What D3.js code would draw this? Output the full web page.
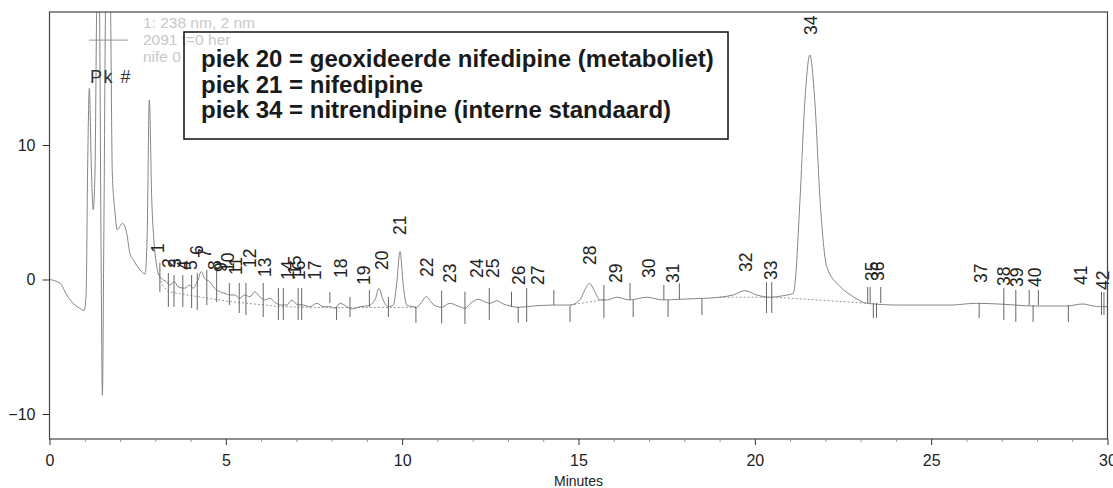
<!DOCTYPE html>
<html>
<head>
<meta charset="utf-8">
<script src="https://cdn.jsdelivr.net/npm/d3@7"></script>
<style>
  html, body { margin: 0; padding: 0; background: #fff; }
  svg { display: block; font-family: "Liberation Sans", Arial, sans-serif; }
</style>
</head>
<body>
<svg id="chart" width="1113" height="488"></svg>
<script>
// ---- Data ----
const traceT = [0,0.30,0.49,0.67,0.91,0.98,1.04,1.08,1.13,1.18,1.24,1.29,1.35,1.41,1.46,1.50,1.54,1.60,1.72,1.78,1.85,1.92,2.07,2.19,2.28,2.38,2.57,2.71,2.77,2.83,2.90,2.96,3.00,3.08,3.17,3.31,3.41,3.55,3.64,3.83,3.98,4.07,4.21,4.30,4.40,4.54,4.68,4.83,4.97,5.11,5.25,5.39,5.53,5.68,5.82,5.96,6.10,6.24,6.43,6.57,6.73,6.87,7.01,7.20,7.39,7.58,7.76,7.95,8.09,8.24,8.43,8.57,8.80,9.04,9.23,9.34,9.46,9.61,9.75,9.84,9.94,10.03,10.13,10.31,10.41,10.53,10.69,10.84,10.96,11.12,11.35,11.58,11.78,11.95,12.16,12.35,12.49,12.68,12.87,13.06,13.29,13.72,14.28,14.76,15.04,15.18,15.31,15.44,15.61,15.80,16.08,16.46,16.93,17.40,17.88,18.54,19.01,19.39,19.72,20.05,20.43,20.81,21.09,21.14,21.28,21.42,21.56,21.70,21.85,22.04,22.42,22.79,23.17,24.12,25.53,26.29,27.04,27.89,28.84,29.30,29.59,29.78,30.00];
const traceV = [0,-0.28,-1.15,-1.77,-2.22,-2.32,-1.0,8,14.2,9,5.2,8,21.5,21.5,3,-8.6,3,21.5,21.5,8,5.2,3.7,4.18,3.43,1.95,1.45,0.71,0.41,3.43,13.35,5.9,2.9,1.8,0.46,0.09,-0.16,-0.41,-0.16,-0.54,-0.65,-0.41,-0.65,-0.04,0.58,0.09,-0.16,-0.65,-0.91,-1.03,-1.15,-1.15,-1.40,-1.15,-1.28,-0.91,-1.28,-1.52,-1.40,-1.77,-1.90,-1.90,-1.52,-1.84,-1.90,-2.02,-1.77,-2.02,-2.02,-2.14,-1.77,-2.02,-2.19,-2.02,-1.95,-1.52,-0.65,-1.52,-2.02,-1.90,-0.41,2.07,-0.41,-1.90,-2.02,-2.07,-1.75,-1.28,-1.75,-1.97,-2.07,-1.77,-1.97,-2.14,-1.75,-1.47,-1.67,-1.77,-1.58,-1.82,-1.97,-2.07,-1.97,-1.90,-1.90,-1.52,-0.78,-0.28,-0.78,-1.52,-1.52,-1.32,-1.52,-1.32,-1.52,-1.47,-1.40,-1.32,-1.15,-0.83,-1.15,-1.32,-1.20,-1.03,-0.28,5.9,13.3,16.7,13.3,5.9,0.95,-0.53,-1.28,-1.77,-1.90,-1.90,-1.77,-1.84,-1.97,-1.97,-1.82,-1.97,-2.02,-2.02];

// integration baselines (NaN separates segments)
const baseT = [3.08,3.20,3.36,4.21,5.14,6.56,8.0,9.2,10.41, NaN, 14.76,15.72, NaN, 19.0,20.43, NaN, 20.48,23.2];
const baseV = [0.46,-0.4,-0.91,-1.28,-1.65,-2.02,-2.1,-2.08,-2.07, NaN, -1.9,-1.5, NaN, -1.32,-1.32, NaN, -1.3,-1.77];

// peak numbers, label positions (time, signal level of label foot)
const peakLabels = ["1","2","3","4","5","6","7","8","9","10","11","12","13","14","15","16","17","18","19","20","21","22","23","24","25","26","27","28","29","30","31","32","33","34","35","36","37","38","39","40","41","42"];
const peakT = [3.08,3.39,3.57,3.81,4.00,4.18,4.42,4.69,4.85,5.06,5.29,5.69,6.10,6.75,6.96,7.07,7.53,8.26,8.92,9.43,9.94,10.70,11.35,12.12,12.57,13.31,13.84,15.32,16.06,17.00,17.68,19.75,20.46,21.58,23.32,23.49,26.41,27.06,27.44,27.94,29.24,29.87];
const peakLabelV = [1.97,0.86,0.86,0.71,0.71,1.82,1.60,0.71,0.56,0.56,0.33,0.86,0.19,-0.04,0.33,-0.04,-0.04,0.11,-0.41,0.71,3.31,0.19,-0.26,0.11,0.11,-0.41,-0.41,1.08,-0.26,0.11,-0.26,0.56,-0.04,18.18,-0.11,-0.11,-0.26,-0.48,-0.56,-0.56,-0.41,-0.78];

// integration event marks: time, top and bottom signal level
const markT =   [3.13,3.37,3.53,3.78,4.03,4.19,4.46,4.74,5.10,5.38,5.57,6.06,6.49,6.63,7.05,7.15,7.95,8.14,8.52,9.07,9.61,10.39,11.12,11.78,12.47,13.10,13.29,13.53,14.30,14.76,15.72,16.46,16.55,17.42,17.54,17.86,18.50,20.33,20.48,23.20,23.27,23.36,23.45,23.57,26.36,27.06,27.40,27.78,27.89,28.04,28.89,29.83,29.90];
const markTop = [1.23,0.48,0.33,0.33,0.33,0.48,0.71,0.93,-0.26,-0.26,-0.26,-0.26,-0.63,-0.63,-0.63,-0.63,-0.93,-2.04,-1.30,-0.78,-1.30,-2.04,-0.83,-0.91,-0.63,-0.91,-2.04,-0.63,-0.78,-1.97,-0.41,-0.26,-1.52,-0.41,-1.52,-0.28,-1.45,-0.19,-0.19,-0.56,-0.56,-1.75,-1.75,-0.56,-1.75,-0.63,-0.78,-0.78,-1.90,-0.78,-1.90,-0.93,-0.93];
const markBot = [-0.93,-2.04,-2.04,-2.04,-2.12,-2.27,-1.90,-1.67,-1.90,-2.49,-2.64,-2.79,-3.01,-3.01,-3.01,-3.01,-1.75,-3.01,-2.79,-2.04,-2.79,-3.23,-3.26,-3.31,-3.01,-2.04,-3.23,-3.16,-1.90,-3.16,-2.86,-1.52,-2.79,-1.52,-2.79,-1.47,-2.64,-2.49,-2.49,-1.75,-1.75,-2.86,-2.86,-1.75,-2.86,-3.01,-3.16,-1.90,-3.16,-1.90,-3.16,-2.64,-2.64];

const xTicks = [0,5,10,15,20,25,30];
const xMinor = [1,2,3,4,6,7,8,9,11,12,13,14,16,17,18,19,21,22,23,24,26,27,28,29];
const yTicks = [-10,0,10];
const headerLines = ["1: 238 nm, 2 nm", "2091 t=0 her", "nife 0"];
const legendLines = ["piek 20 = geoxideerde nifedipine (metaboliet)", "piek 21 = nifedipine", "piek 34 = nitrendipine (interne standaard)"];

// ---- Drawing ----
const svg = d3.select("#chart");
const L = 49.5, R = 1107.5, T = 12, B = 439;
const x = d3.scaleLinear().domain([0, 30]).range([L, R]);
const y = d3.scaleLinear().domain([-11.86, 19.89]).range([B, T]);

svg.append("rect").attr("width", 1113).attr("height", 488).attr("fill", "#fff");

svg.append("defs").append("clipPath").attr("id", "plotclip")
  .append("rect").attr("x", L).attr("y", T).attr("width", R - L).attr("height", B - T);

// faint instrument header text
const hdr = svg.append("g").attr("fill", "#c8c8c8").attr("font-size", 15.5);
headerLines.forEach((s, i) => {
  hdr.append("text").attr("x", x(2.65)).attr("y", 28 + i * 17).text(s);
});

// crosshair cursor
const ch = svg.append("g").attr("stroke", "#999").attr("stroke-width", 1);
ch.append("line").attr("x1", x(1.12)).attr("x2", x(2.23)).attr("y1", y(17.8)).attr("y2", y(17.8));

const plot = svg.append("g").attr("clip-path", "url(#plotclip)");

// baselines (dotted)
const baseLine = d3.line().defined(d => !isNaN(d[0])).x(d => x(d[0])).y(d => y(d[1]));
plot.append("path")
  .datum(baseT.map((t, i) => [t, baseV[i]]))
  .attr("d", baseLine)
  .attr("fill", "none").attr("stroke", "#999").attr("stroke-width", 1)
  .attr("stroke-dasharray", "2,2");

// trace
const line = d3.line().x(d => x(d[0])).y(d => y(d[1])).curve(d3.curveMonotoneX);
plot.append("path")
  .datum(traceT.map((t, i) => [t, traceV[i]]))
  .attr("d", line)
  .attr("fill", "none").attr("stroke", "#858585").attr("stroke-width", 1);

// event marks
plot.append("g").selectAll("line").data(markT).join("line")
  .attr("x1", d => x(d)).attr("x2", d => x(d))
  .attr("y1", (d, i) => y(markTop[i])).attr("y2", (d, i) => y(markBot[i]))
  .attr("stroke", "#666").attr("stroke-width", 1);

// peak labels
svg.append("g").selectAll("text").data(peakLabels).join("text")
  .attr("transform", (d, i) => `translate(${x(peakT[i])},${y(peakLabelV[i])}) rotate(-90)`)
  .attr("text-anchor", "start")
  .attr("dominant-baseline", "central")
  .attr("font-size", 17.5)
  .attr("fill", "#222")
  .text(d => d);

svg.append("text").attr("x", 90).attr("y", 83).attr("font-size", 18)
  .attr("letter-spacing", 1.5).attr("fill", "#333").text("Pk #");

// frame
svg.append("rect").attr("x", L).attr("y", T).attr("width", R - L).attr("height", B - T)
  .attr("fill", "none").attr("stroke", "#444").attr("stroke-width", 1.2);

// axes
const xAxis = svg.append("g").attr("transform", `translate(0,${B})`)
  .call(d3.axisBottom(x).tickValues(xTicks).tickSize(6).tickPadding(10).tickFormat(d3.format("d")));
const xMin = svg.append("g").attr("transform", `translate(0,${B})`)
  .call(d3.axisBottom(x).tickValues(xMinor).tickSize(3).tickFormat(""));
const yAxis = svg.append("g").attr("transform", `translate(${L},0)`)
  .call(d3.axisLeft(y).tickValues(yTicks).tickSize(7).tickPadding(7).tickFormat(d3.format("d")));
[xAxis, xMin, yAxis].forEach(g => {
  g.select(".domain").remove();
  g.selectAll("line").attr("stroke", "#333");
  g.selectAll("text").attr("font-size", 16).attr("fill", "#222")
    .attr("font-family", "'Liberation Sans', Arial, sans-serif");
});
xMin.selectAll("line").attr("stroke", "#999");

svg.append("text").attr("x", x(15)).attr("y", 486).attr("text-anchor", "middle")
  .attr("font-size", 14).attr("fill", "#222").text("Minutes");

// legend box (transparent, faint header shows through)
const lg = svg.append("g");
lg.append("rect").attr("x", 184).attr("y", 32).attr("width", 544).attr("height", 107)
  .attr("fill", "none").attr("stroke", "#111").attr("stroke-width", 1.5);
legendLines.forEach((s, i) => {
  lg.append("text").attr("x", 201).attr("y", 67 + i * 25.5)
    .attr("font-size", 24).attr("font-weight", "bold").attr("fill", "#1a1a1a").text(s);
});
</script>
</body>
</html>
